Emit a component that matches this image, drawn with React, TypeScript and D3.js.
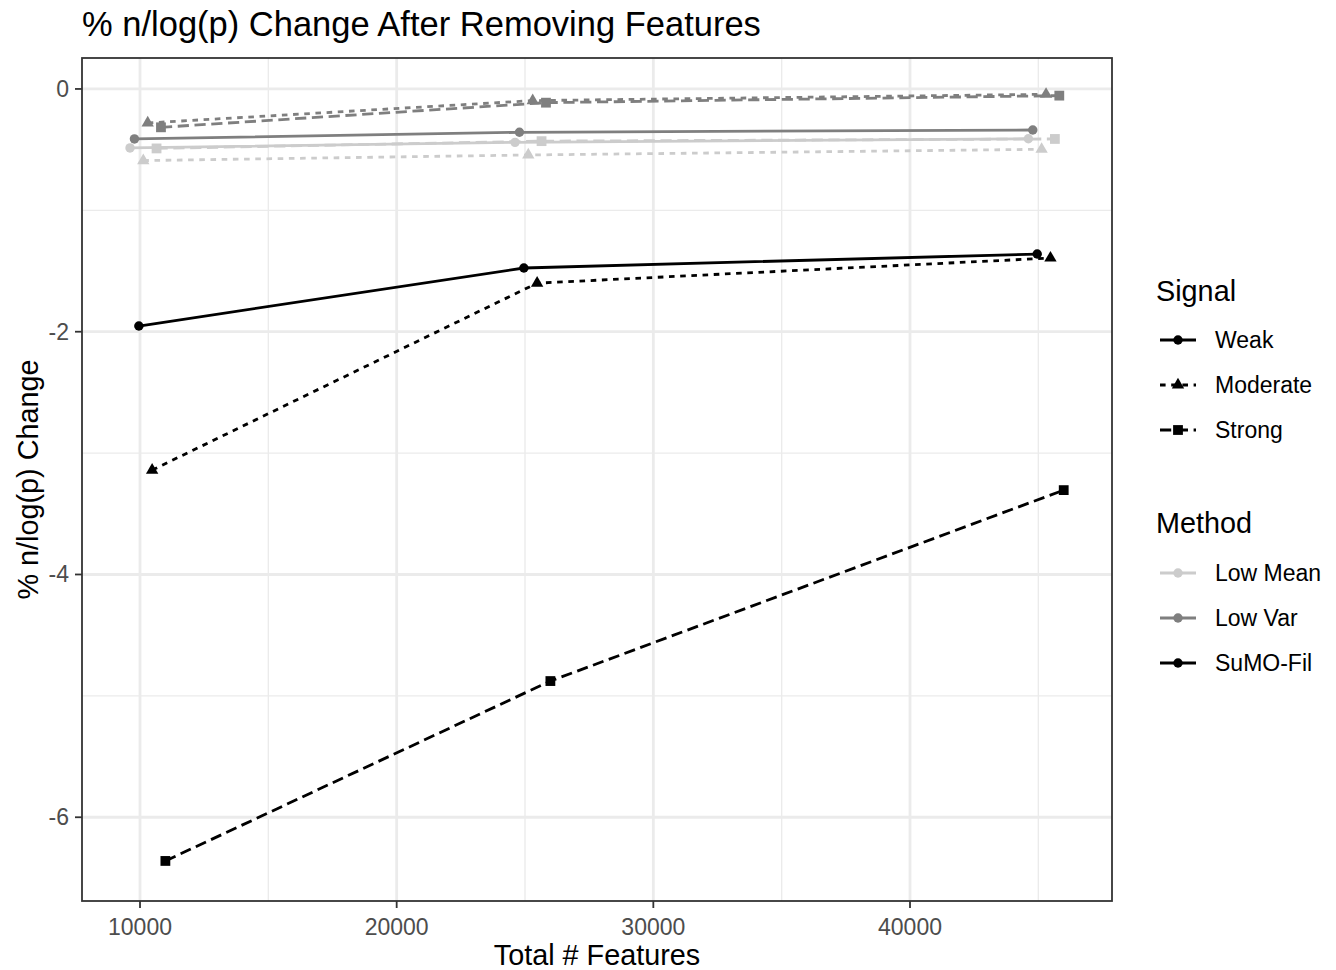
import React from 'react';
import * as d3 from 'd3';

// ---- data ----
const features = [10300, 25300, 45300];
const signals = ['Weak', 'Moderate', 'Strong'];
const methods = ['Low Mean', 'Low Var', 'SuMO-Fil'];

const lowMeanWeak = [-0.486, -0.44, -0.41];
const lowMeanModerate = [-0.59, -0.544, -0.497];
const lowMeanStrong = [-0.49, -0.43, -0.412];
const lowVarWeak = [-0.412, -0.357, -0.338];
const lowVarModerate = [-0.28, -0.096, -0.044];
const lowVarStrong = [-0.316, -0.113, -0.055];
const sumoWeak = [-1.953, -1.475, -1.36];
const sumoModerate = [-3.14, -1.6, -1.393];
const sumoStrong = [-6.36, -4.878, -3.305];

const xTicks = [10000, 20000, 30000, 40000];
const xMinor = [15000, 25000, 35000, 45000];
const yTicks = [0, -2, -4, -6];
const yMinor = [-1, -3, -5];

const seriesValues: Record<string, number[]> = {
  'Low Mean|Weak': lowMeanWeak,
  'Low Mean|Moderate': lowMeanModerate,
  'Low Mean|Strong': lowMeanStrong,
  'Low Var|Weak': lowVarWeak,
  'Low Var|Moderate': lowVarModerate,
  'Low Var|Strong': lowVarStrong,
  'SuMO-Fil|Weak': sumoWeak,
  'SuMO-Fil|Moderate': sumoModerate,
  'SuMO-Fil|Strong': sumoStrong,
};

const methodColor: Record<string, string> = {
  'Low Mean': '#cccccc',
  'Low Var': '#7f7f7f',
  'SuMO-Fil': '#000000',
};
const signalDash: Record<string, string | undefined> = {
  Weak: undefined,
  Moderate: '5.6,5.6',
  Strong: '11.2,5.6',
};
const signalSymbol: Record<string, d3.SymbolType> = {
  Weak: d3.symbolCircle,
  Moderate: d3.symbolTriangle,
  Strong: d3.symbolSquare,
};
const symbolSize: Record<string, number> = { Weak: 70, Moderate: 66, Strong: 96 };

const font = '"Liberation Sans", Arial, Helvetica, sans-serif';
const W = 1336;
const H = 970;
const panel = { left: 82, top: 58, right: 1112, bottom: 901 };
const dodgeWidth = 1550;

const x = d3.scaleLinear().domain([7740, 47870]).range([panel.left, panel.right]);
const y = d3.scaleLinear().domain([-6.69, 0.255]).range([panel.bottom, panel.top]);

// groups in dodge order (signal outer, method inner)
const groups = signals.flatMap((s) => methods.map((m) => ({ method: m, signal: s })));

export default function App() {
  const n = groups.length;
  const line = d3.line<[number, number]>().x((d) => d[0]).y((d) => d[1]);

  const series = groups.map((g, i) => {
    const off = (i - (n - 1) / 2) * (dodgeWidth / n);
    const vals = seriesValues[g.method + '|' + g.signal];
    const pts: [number, number][] = features.map((f, j) => [x(f + off), y(vals[j])]);
    return { ...g, pts };
  });

  const sym = (s: string) => d3.symbol().type(signalSymbol[s]).size(symbolSize[s])() as string;

  const legendKey = (cx: number, cy: number, color: string, dash: string | undefined, s: string) => (
    <g>
      <line x1={cx - 18} x2={cx + 18} y1={cy} y2={cy} stroke={color} strokeWidth={2.8} strokeDasharray={dash} />
      <path d={sym(s)} transform={`translate(${cx},${cy})`} fill={color} />
    </g>
  );

  return (
    <svg width={W} height={H} style={{ position: 'absolute', left: 0, top: 0, display: 'block' }} fontFamily={font}>
      <rect x={0} y={0} width={W} height={H} fill="#ffffff" />
      <text x={82} y={36} fontSize={34.5} fill="#000">% n/log(p) Change After Removing Features</text>

      {/* grid */}
      <g>
        {xMinor.map((t) => (
          <line key={'xm' + t} x1={x(t)} x2={x(t)} y1={panel.top} y2={panel.bottom} stroke="#ebebeb" strokeWidth={1.4} />
        ))}
        {yMinor.map((t) => (
          <line key={'ym' + t} x1={panel.left} x2={panel.right} y1={y(t)} y2={y(t)} stroke="#ebebeb" strokeWidth={1.4} />
        ))}
        {xTicks.map((t) => (
          <line key={'x' + t} x1={x(t)} x2={x(t)} y1={panel.top} y2={panel.bottom} stroke="#ebebeb" strokeWidth={2.8} />
        ))}
        {yTicks.map((t) => (
          <line key={'y' + t} x1={panel.left} x2={panel.right} y1={y(t)} y2={y(t)} stroke="#ebebeb" strokeWidth={2.8} />
        ))}
      </g>

      {/* lines */}
      {series.map((s) => (
        <path
          key={'l' + s.method + s.signal}
          d={line(s.pts) as string}
          fill="none"
          stroke={methodColor[s.method]}
          strokeWidth={2.8}
          strokeDasharray={signalDash[s.signal]}
        />
      ))}
      {/* points */}
      {series.map((s) =>
        s.pts.map((p, j) => (
          <path key={'p' + s.method + s.signal + j} d={sym(s.signal)} transform={`translate(${p[0]},${p[1]})`} fill={methodColor[s.method]} />
        ))
      )}

      <rect
        x={panel.left}
        y={panel.top}
        width={panel.right - panel.left}
        height={panel.bottom - panel.top}
        fill="none"
        stroke="#333333"
        strokeWidth={1.8}
      />

      {/* axes */}
      {xTicks.map((t) => (
        <g key={'xt' + t}>
          <line x1={x(t)} x2={x(t)} y1={panel.bottom} y2={panel.bottom + 7} stroke="#333333" strokeWidth={1.8} />
          <text x={x(t)} y={935} fontSize={23} fill="#4d4d4d" textAnchor="middle">{t}</text>
        </g>
      ))}
      {yTicks.map((t) => (
        <g key={'yt' + t}>
          <line x1={panel.left - 7} x2={panel.left} y1={y(t)} y2={y(t)} stroke="#333333" strokeWidth={1.8} />
          <text x={69} y={y(t) + 8} fontSize={23} fill="#4d4d4d" textAnchor="end">{t === 0 ? '0' : String(t)}</text>
        </g>
      ))}
      <text x={(panel.left + panel.right) / 2} y={965} fontSize={28.8} textAnchor="middle" fill="#000">Total # Features</text>
      <text
        transform={`translate(38,${(panel.top + panel.bottom) / 2}) rotate(-90)`}
        fontSize={28.8}
        textAnchor="middle"
        fill="#000"
      >
        % n/log(p) Change
      </text>

      {/* legends */}
      <text x={1156} y={301} fontSize={28.8} fill="#000">Signal</text>
      {signals.map((s, i) => (
        <g key={'ls' + s}>
          {legendKey(1178, 340 + i * 45, '#000000', signalDash[s], s)}
          <text x={1215} y={340 + i * 45 + 8} fontSize={23} fill="#000">{s}</text>
        </g>
      ))}
      <text x={1156} y={533} fontSize={28.8} fill="#000">Method</text>
      {methods.map((m, i) => (
        <g key={'lm' + m}>
          {legendKey(1178, 573 + i * 45, methodColor[m], undefined, 'Weak')}
          <text x={1215} y={573 + i * 45 + 8} fontSize={23} fill="#000">{m}</text>
        </g>
      ))}
    </svg>
  );
}
